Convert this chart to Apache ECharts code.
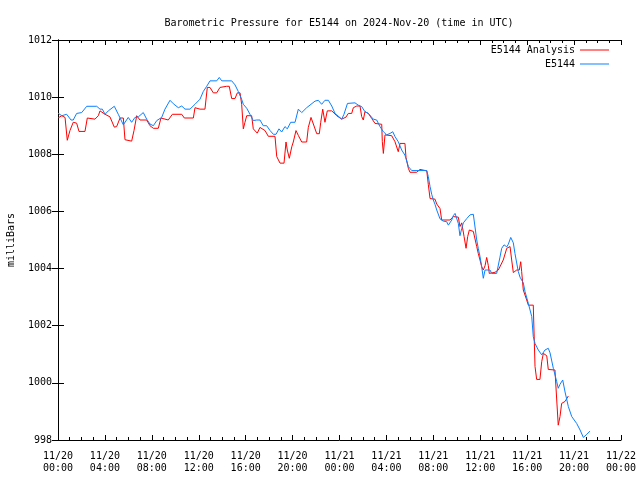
<!DOCTYPE html>
<html>
<head>
<meta charset="utf-8">
<script src="https://cdn.jsdelivr.net/npm/echarts@6/dist/echarts.min.js"></script>
<style>html,body{margin:0;padding:0;background:#fff}#c{width:640px;height:480px}</style>
</head>
<body>
<div id="c"></div>
<script>
// hours since 2024-11-20 00:00 UTC
const redHours = [0,0.32,0.60,0.79,1.02,1.30,1.59,1.79,2.30,2.50,3.15,3.44,3.58,4.01,4.43,4.58,4.80,5.00,5.29,5.57,5.71,6.28,6.48,6.71,6.99,7.56,7.84,8.13,8.55,8.78,9.40,9.75,10.55,10.77,11.54,11.68,12.11,12.53,12.73,12.96,13.24,13.53,13.81,14.38,14.60,14.81,15.09,15.29,15.52,15.66,15.80,15.94,16.09,16.51,16.65,16.99,17.22,17.65,17.93,18.50,18.65,18.93,19.27,19.44,19.55,19.72,19.93,20.06,20.29,20.49,20.78,21.20,21.34,21.57,21.77,22.06,22.28,22.40,22.57,22.76,22.96,23.34,23.76,24.19,24.55,24.75,25.04,25.18,25.47,25.75,25.89,26.03,26.17,26.46,26.75,26.88,27.03,27.60,27.65,27.74,27.88,28.45,28.73,29.01,29.16,29.58,29.67,29.87,30.01,30.58,30.86,31.01,31.44,31.57,31.72,31.86,32.14,32.29,32.57,32.71,33.42,33.70,33.85,34.13,34.27,34.42,34.56,34.62,34.79,34.93,35.07,35.41,35.55,35.70,35.83,35.98,36.12,36.26,36.41,36.55,36.69,36.77,37.26,37.54,37.68,37.96,38.26,38.54,38.68,38.82,39.11,39.33,39.45,39.53,39.67,39.96,40.10,40.52,40.67,40.81,41.09,41.24,41.38,41.67,41.80,42.37,42.52,42.65,42.80,42.94,43.23,43.51];
const redValues = [1009.27,1009.35,1009.29,1008.49,1008.83,1009.12,1009.09,1008.80,1008.80,1009.27,1009.23,1009.35,1009.52,1009.40,1009.31,1009.29,1008.95,1008.97,1009.27,1009.27,1008.51,1008.46,1008.83,1009.35,1009.20,1009.20,1009.00,1008.91,1008.91,1009.27,1009.20,1009.40,1009.40,1009.27,1009.27,1009.63,1009.58,1009.58,1010.34,1010.34,1010.15,1010.15,1010.34,1010.38,1010.38,1009.95,1009.95,1010.15,1010.15,1009.75,1008.89,1009.12,1009.35,1009.35,1008.89,1008.74,1008.94,1008.83,1008.63,1008.63,1007.92,1007.69,1007.69,1008.43,1008.15,1007.86,1008.26,1008.43,1008.83,1008.66,1008.43,1008.43,1008.94,1009.29,1009.06,1008.72,1008.72,1009.12,1009.58,1009.12,1009.52,1009.52,1009.35,1009.23,1009.30,1009.43,1009.43,1009.63,1009.69,1009.69,1009.32,1009.20,1009.49,1009.43,1009.25,1009.20,1009.08,1009.05,1008.44,1008.03,1008.68,1008.65,1008.44,1008.09,1008.38,1008.38,1007.89,1007.51,1007.37,1007.37,1007.47,1007.42,1007.42,1006.95,1006.45,1006.43,1006.43,1006.26,1006.10,1005.70,1005.70,1005.82,1005.84,1005.80,1005.47,1005.60,1005.60,1005.12,1004.71,1005.12,1005.35,1005.30,1005.30,1004.77,1004.53,1004.30,1004.07,1003.95,1004.10,1004.39,1004.10,1003.83,1003.87,1003.95,1004.01,1004.30,1004.71,1004.77,1004.30,1003.86,1003.95,1003.95,1004.24,1003.90,1003.25,1002.90,1002.72,1002.72,1000.57,1000.12,1000.12,1000.74,1001.03,1000.95,1000.47,1000.45,999.40,998.52,998.82,999.28,999.35,999.54];
const blueHours = [0,0.32,0.74,1.11,1.30,1.59,2.02,2.45,3.30,3.58,3.78,4.01,4.29,4.80,5.14,5.57,5.99,6.28,6.56,6.85,7.27,7.56,7.84,8.13,8.42,8.84,9.12,9.55,9.83,10.26,10.55,10.83,11.25,11.68,12.11,12.39,12.68,12.96,13.53,13.75,13.96,14.81,15.09,15.37,15.66,15.80,16.09,16.37,16.65,16.94,17.22,17.50,17.79,18.08,18.36,18.59,18.84,19.07,19.35,19.55,19.84,20.21,20.49,20.78,21.20,21.91,22.19,22.48,22.76,23.05,23.34,23.62,24.19,24.38,24.68,25.32,25.60,25.89,26.17,26.46,26.60,26.88,27.17,27.45,27.74,28.02,28.31,28.54,28.73,29.01,29.30,29.58,29.87,30.16,31.44,31.57,31.72,31.86,32.00,32.14,32.29,32.57,32.85,33.14,33.28,33.42,33.57,33.70,33.85,33.99,34.13,34.27,34.42,34.56,34.85,35.13,35.41,35.55,35.70,35.83,35.98,36.12,36.26,36.41,36.83,36.98,37.40,37.68,37.83,38.03,38.26,38.39,38.60,38.82,38.96,39.24,39.39,39.67,39.82,40.10,40.39,40.52,40.67,40.95,41.24,41.52,41.80,41.95,42.23,42.52,42.65,42.80,43.03,43.23,43.51,43.80,44.22,44.51,44.79,45.08,45.36];
const blueValues = [1009.44,1009.35,1009.40,1009.20,1009.20,1009.43,1009.46,1009.68,1009.68,1009.58,1009.58,1009.40,1009.52,1009.68,1009.40,1009.03,1009.29,1009.12,1009.29,1009.31,1009.46,1009.23,1009.06,1009.00,1009.18,1009.29,1009.58,1009.89,1009.77,1009.63,1009.69,1009.58,1009.58,1009.75,1009.93,1010.20,1010.38,1010.57,1010.57,1010.69,1010.57,1010.57,1010.43,1010.20,1009.92,1009.75,1009.61,1009.40,1009.18,1009.20,1009.20,1009.00,1009.00,1008.83,1008.70,1008.70,1008.89,1008.78,1008.97,1008.89,1009.12,1009.12,1009.58,1009.46,1009.63,1009.86,1009.89,1009.75,1009.89,1009.89,1009.69,1009.43,1009.23,1009.40,1009.78,1009.80,1009.72,1009.67,1009.49,1009.43,1009.49,1009.23,1009.20,1008.97,1008.79,1008.68,1008.73,1008.79,1008.62,1008.44,1008.15,1007.97,1007.57,1007.43,1007.43,1007.22,1006.87,1006.60,1006.40,1006.25,1006.05,1005.74,1005.66,1005.64,1005.52,1005.56,1005.70,1005.85,1005.93,1005.99,1005.58,1005.15,1005.40,1005.60,1005.75,1005.88,1005.90,1005.85,1005.00,1004.71,1004.42,1004.07,1003.66,1003.95,1003.95,1003.83,1003.83,1004.40,1004.71,1004.83,1004.76,1004.85,1005.09,1004.90,1004.53,1003.90,1003.70,1003.50,1003.19,1002.78,1002.32,1001.62,1001.38,1001.15,1000.98,1001.15,1001.21,1001.05,1000.51,1000.04,999.81,999.95,1000.10,999.68,999.17,998.82,998.58,998.35,998.09,998.20,998.31];
const xTickLabels = ['11/20\n00:00','11/20\n04:00','11/20\n08:00','11/20\n12:00','11/20\n16:00','11/20\n20:00','11/21\n00:00','11/21\n04:00','11/21\n08:00','11/21\n12:00','11/21\n16:00','11/21\n20:00','11/22\n00:00'];
const seriesNames = ['E5144 Analysis','E5144'];

const FONT = 'DejaVu Sans Mono';
const chart = echarts.init(document.getElementById('c'), null, {renderer:'canvas'});
const zip = (a,b) => a.map((v,i) => [v,b[i]]);
const axisBase = {
  axisLine:{show:true,lineStyle:{color:'#000',width:1}},
  splitLine:{show:false}
};
chart.setOption({
  animation:false,
  backgroundColor:'#fff',
  textStyle:{fontFamily:FONT},
  title:{text:'Barometric Pressure for E5144 on 2024-Nov-20 (time in UTC)',left:334,textAlign:'center',top:13,
    textStyle:{fontFamily:FONT,fontSize:10,fontWeight:'normal',color:'#000'}},
  legend:{orient:'vertical',right:26,top:39,align:'right',itemWidth:29,itemHeight:1,itemGap:2,
    icon:'rect',data:seriesNames,selectedMode:false,
    textStyle:{fontFamily:FONT,fontSize:10,color:'#000',lineHeight:12}},
  grid:{left:58,right:19,top:40,bottom:40,containLabel:false,outerBoundsMode:'none'},
  xAxis:[
    Object.assign({},axisBase,{type:'value',min:0,max:48,interval:4,position:'bottom',
      axisTick:{show:true,inside:true,length:5,lineStyle:{color:'#000'}},
      minorTick:{show:true,splitNumber:4,length:3,lineStyle:{color:'#000'}},
      axisLabel:{margin:10,fontFamily:FONT,fontSize:10,color:'#000',lineHeight:12,
        formatter:v => xTickLabels[Math.round(v/4)]}}),
    Object.assign({},axisBase,{type:'value',min:0,max:48,interval:4,position:'top',
      axisTick:{show:true,inside:true,length:5,lineStyle:{color:'#000'}},
      minorTick:{show:true,splitNumber:4,length:3,lineStyle:{color:'#000'}},
      axisLabel:{show:false}})
  ],
  yAxis:[
    Object.assign({},axisBase,{type:'value',min:998,max:1012,interval:2,position:'left',
      name:'milliBars',nameLocation:'middle',nameGap:42,nameRotate:90,
      nameTextStyle:{fontFamily:FONT,fontSize:10,color:'#000'},
      axisTick:{show:true,inside:true,length:6,lineStyle:{color:'#000'}},
      axisLabel:{margin:6,fontFamily:FONT,fontSize:10,color:'#000',formatter:v => String(v)}}),
    Object.assign({},axisBase,{type:'value',min:998,max:1012,interval:2,position:'right',
      axisTick:{show:true,inside:true,length:6,lineStyle:{color:'#000'}},
      axisLabel:{show:false}})
  ],
  series:[
    {name:seriesNames[0],type:'line',data:zip(redHours,redValues),showSymbol:false,symbol:'none',
      lineStyle:{color:'#ff0000',width:1},itemStyle:{color:'#ff0000'},z:2},
    {name:seriesNames[1],type:'line',data:zip(blueHours,blueValues),showSymbol:false,symbol:'none',
      lineStyle:{color:'#0a80ff',width:1},itemStyle:{color:'#0a80ff'},z:3}
  ]
});
</script>
</body>
</html>
